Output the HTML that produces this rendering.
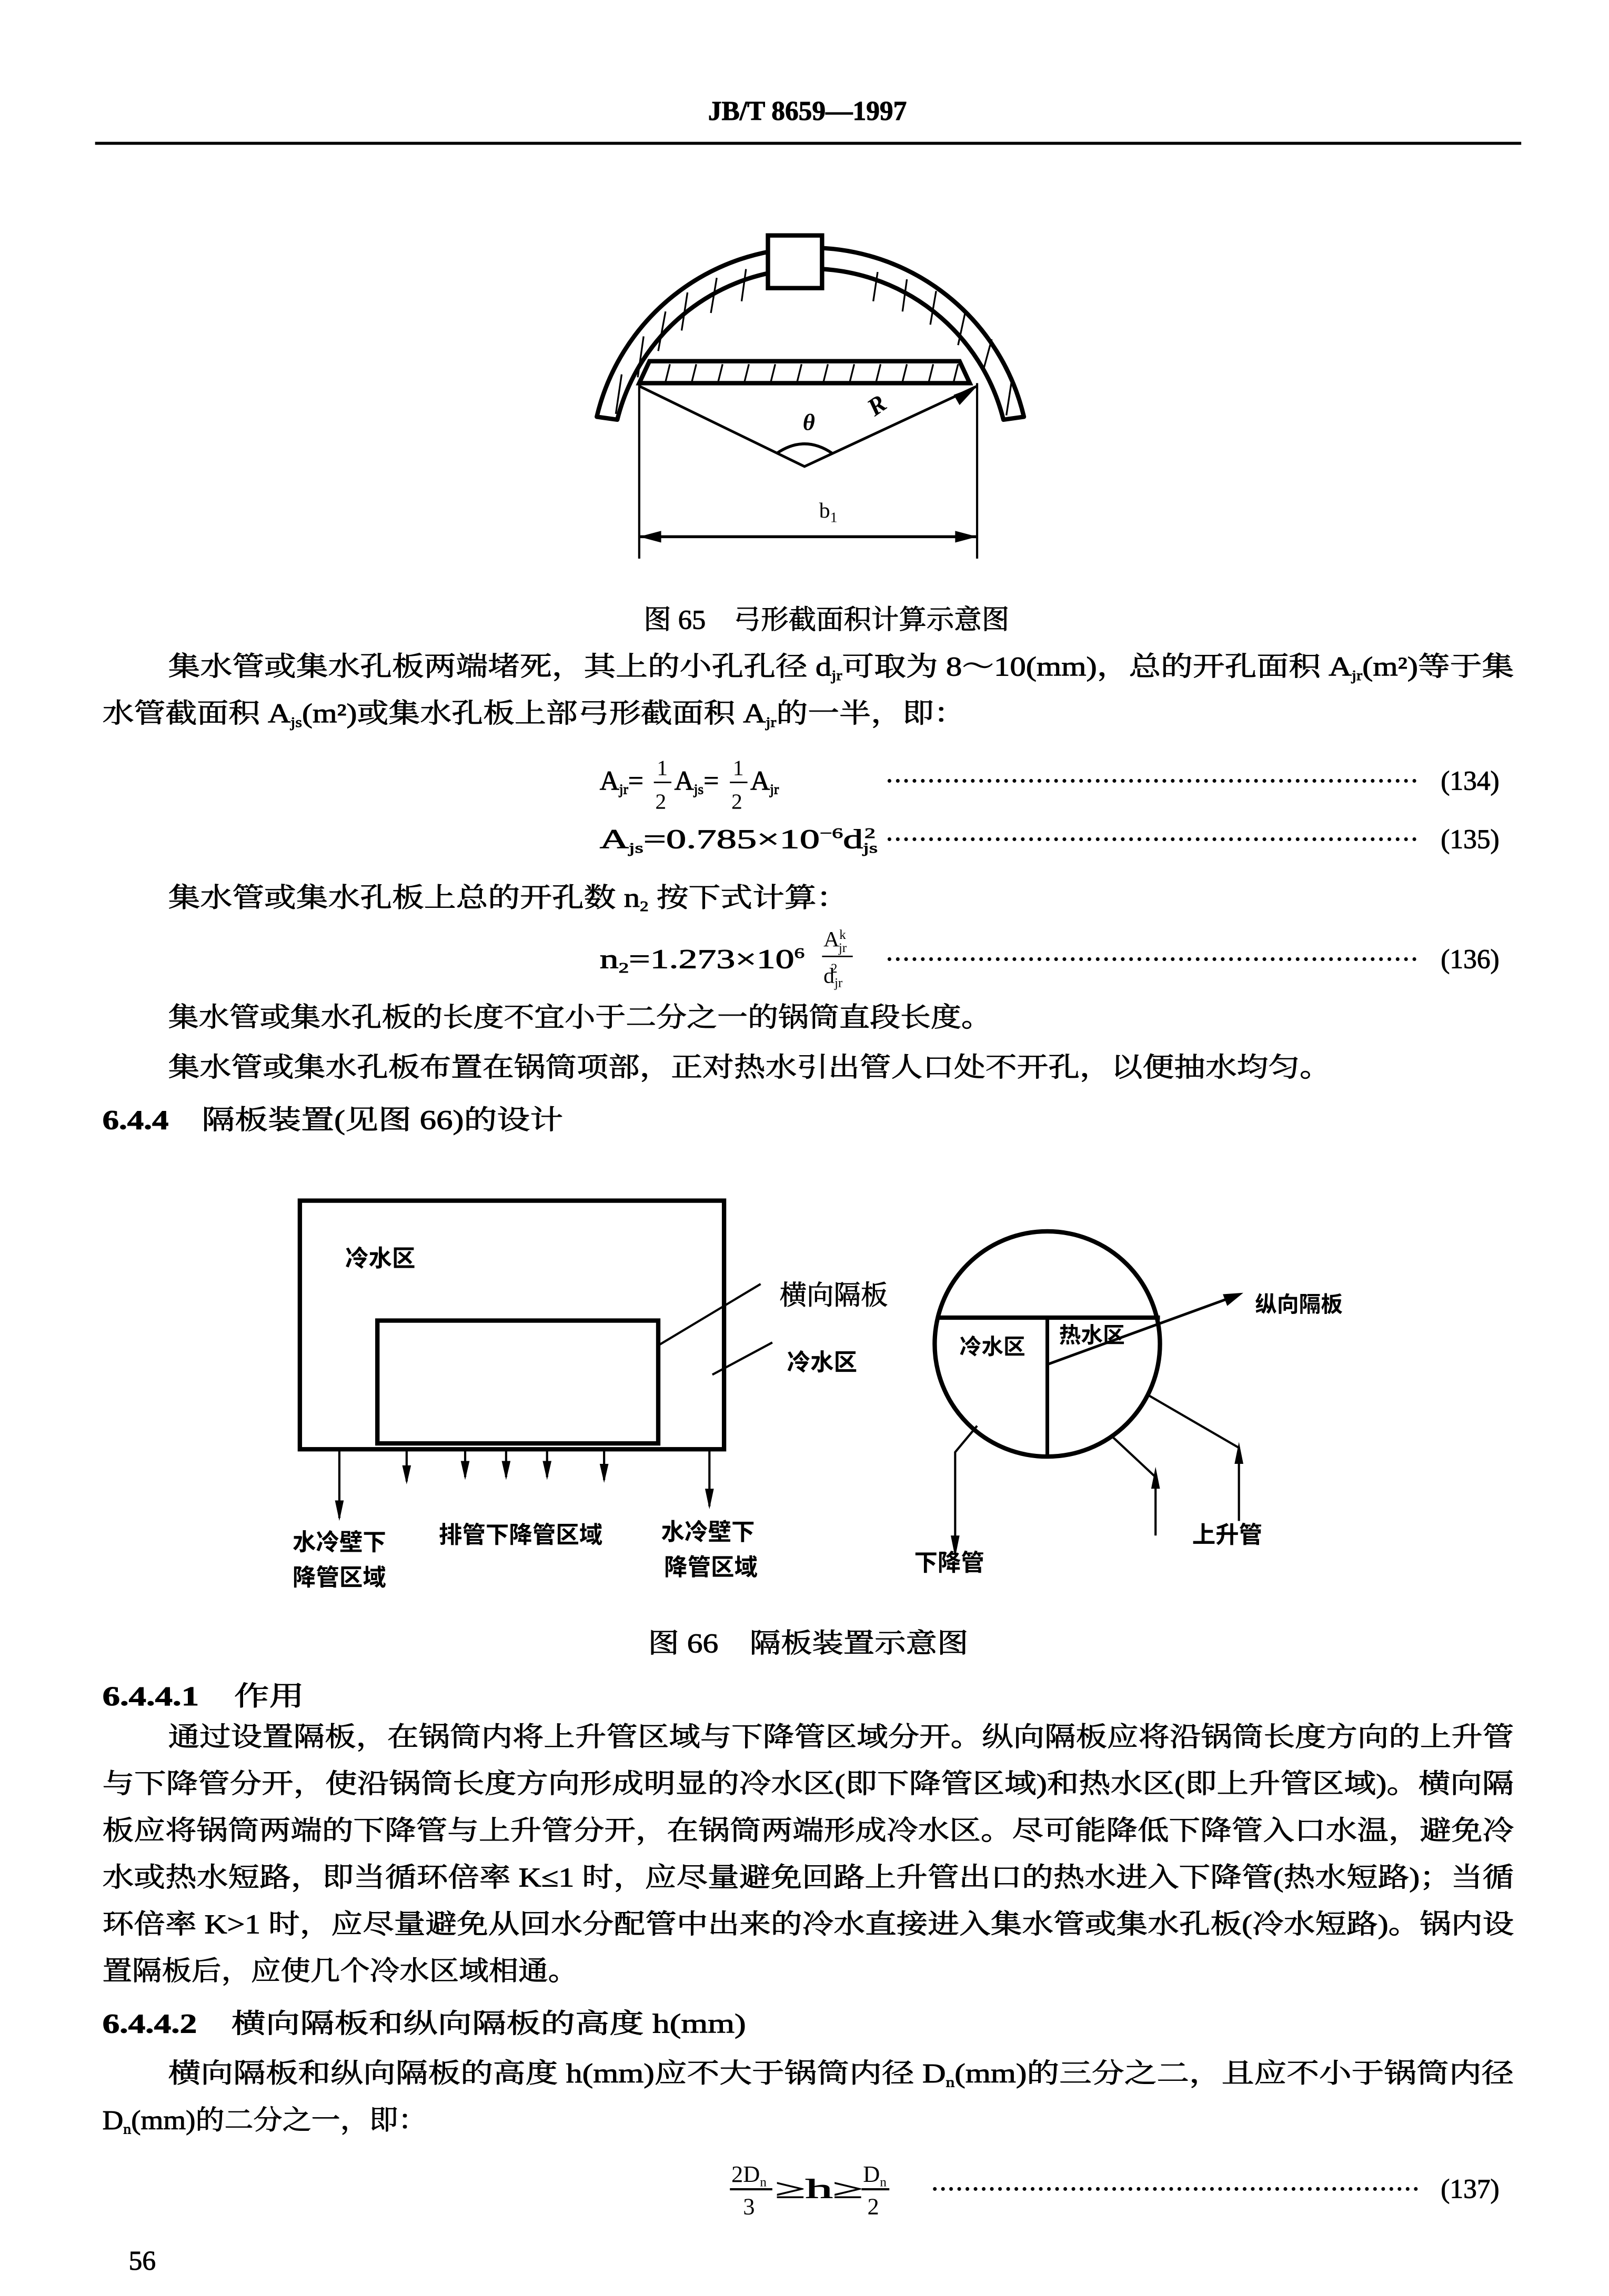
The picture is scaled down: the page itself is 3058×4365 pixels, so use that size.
<!DOCTYPE html>
<html><head><meta charset="utf-8"><style>
html,body{margin:0;padding:0;background:#fff}
svg{display:block}
text{font-family:"Liberation Serif","Noto Serif CJK SC","Noto Sans CJK SC",serif;fill:#000}
.b{font-size:18.5px;stroke:#000;stroke-width:0.35}
.h{font-family:"Liberation Sans","Noto Sans CJK SC",sans-serif;font-weight:bold}
.sb{font-weight:bold}
</style></head><body>
<svg width="3058" height="4365" viewBox="0 0 1100 1570" preserveAspectRatio="none" xmlns="http://www.w3.org/2000/svg">
<text x="552" y="82" class="b sb" text-anchor="middle" font-size="17">JB/T 8659—1997</text>
<line x1="65" y1="98" x2="1040" y2="98" stroke="#000" stroke-width="2"/>

<!-- Figure 65 -->
<g stroke="#000" fill="none">
<path d="M408,285 A150,150 0 0 1 700,285 L686,287 A136,136 0 0 0 422,287 Z" fill="#fff" stroke-width="3" stroke-linejoin="round"/>
<g stroke-width="1.2">
<line x1="425" y1="256" x2="421" y2="283"/><line x1="440" y1="230" x2="436" y2="258"/><line x1="455" y1="213" x2="450" y2="240"/><line x1="470" y1="200" x2="466" y2="226"/>
<line x1="490" y1="190" x2="486" y2="214"/><line x1="510" y1="184" x2="507" y2="206"/>
<line x1="600" y1="186" x2="597" y2="206"/><line x1="620" y1="191" x2="617" y2="213"/><line x1="640" y1="199" x2="636" y2="222"/>
<line x1="660" y1="213" x2="655" y2="236"/><line x1="678" y1="232" x2="672" y2="254"/><line x1="692" y1="258" x2="688" y2="284"/>
</g>
<rect x="525" y="161" width="37" height="36" fill="#fff" stroke-width="3"/>
<path d="M444,247 L656,247 L663,262 L437,262 Z" fill="#fff" stroke-width="3"/>
<g stroke-width="1.2">
<line x1="458" y1="249" x2="455" y2="261"/><line x1="476" y1="249" x2="473" y2="261"/><line x1="494" y1="249" x2="491" y2="261"/>
<line x1="512" y1="249" x2="509" y2="261"/><line x1="530" y1="249" x2="527" y2="261"/><line x1="548" y1="249" x2="545" y2="261"/>
<line x1="566" y1="249" x2="563" y2="261"/><line x1="584" y1="249" x2="581" y2="261"/><line x1="602" y1="249" x2="599" y2="261"/>
<line x1="620" y1="249" x2="617" y2="261"/><line x1="638" y1="249" x2="635" y2="261"/><line x1="655" y1="249" x2="652" y2="261"/>
</g>
<line x1="437" y1="262" x2="437" y2="382" stroke-width="1.5"/>
<line x1="668" y1="262" x2="668" y2="382" stroke-width="1.5"/>
<polyline points="437,264 550,319 668,264" stroke-width="1.8"/>
<path d="M531,310 Q550,297 569,310" stroke-width="2"/>
<line x1="437" y1="367" x2="668" y2="367" stroke-width="2"/>
</g>
<polygon points="437,367 452,363 452,371" fill="#000"/>
<polygon points="668,367 653,363 653,371" fill="#000"/>
<polygon points="668,264 652,270 656,277" fill="#000"/>
<text x="553" y="294" font-size="16" font-style="italic" text-anchor="middle" class="sb">θ</text>
<text x="598" y="285" font-size="17" font-style="italic" class="sb" transform="rotate(-35 598 285)">R</text>
<text x="560" y="354" font-size="15">b<tspan font-size="10" dy="3">1</tspan></text>
<text x="440" y="430" class="b" textLength="250" lengthAdjust="spacingAndGlyphs">图 65　弓形截面积计算示意图</text>

<text x="115" y="462" class="b" textLength="920" lengthAdjust="spacingAndGlyphs">集水管或集水孔板两端堵死，其上的小孔孔径 d<tspan font-size="10" dy="3">jr</tspan><tspan dy="-3">可取为 8～10(mm)，总的开孔面积 A</tspan><tspan font-size="10" dy="3">jr</tspan><tspan dy="-3">(m²)等于集</tspan></text>
<text x="70" y="494" class="b" textLength="590" lengthAdjust="spacingAndGlyphs">水管截面积 A<tspan font-size="10" dy="3">js</tspan><tspan dy="-3">(m²)或集水孔板上部弓形截面积 A</tspan><tspan font-size="10" dy="3">jr</tspan><tspan dy="-3">的一半，即：</tspan></text>

<text x="410" y="540" class="b">A<tspan font-size="10" dy="3">jr</tspan><tspan dy="-3">=</tspan></text>
<text x="449" y="530" font-size="15">1</text><line x1="447" y1="535" x2="459" y2="535" stroke="#000"/><text x="448" y="553" font-size="15">2</text>
<text x="461" y="540" class="b">A<tspan font-size="10" dy="3">js</tspan><tspan dy="-3">=</tspan></text>
<text x="501" y="530" font-size="15">1</text><line x1="499" y1="535" x2="511" y2="535" stroke="#000"/><text x="500" y="553" font-size="15">2</text>
<text x="513" y="540" class="b">A<tspan font-size="10" dy="3">jr</tspan></text>
<text x="605" y="540" class="b" textLength="365" lengthAdjust="spacing">································································</text>
<text x="985" y="540" class="b">(134)</text>

<text x="410" y="580" class="b" textLength="190" lengthAdjust="spacingAndGlyphs">A<tspan font-size="10" dy="3">js</tspan><tspan dy="-3">=0.785×10</tspan><tspan font-size="10" dy="-7">−6</tspan><tspan dy="7">d</tspan><tspan font-size="10" dy="3">js</tspan><tspan font-size="10" dx="-6" dy="-10">2</tspan></text>
<text x="605" y="580" class="b" textLength="365" lengthAdjust="spacing">································································</text>
<text x="985" y="580" class="b">(135)</text>

<text x="115" y="620" class="b" textLength="465" lengthAdjust="spacingAndGlyphs">集水管或集水孔板上总的开孔数 n<tspan font-size="10" dy="3">2</tspan><tspan dy="-3"> 按下式计算：</tspan></text>
<text x="410" y="662" class="b" textLength="140" lengthAdjust="spacingAndGlyphs">n<tspan font-size="10" dy="3">2</tspan><tspan dy="-3">=1.273×10</tspan><tspan font-size="10" dy="-7">6</tspan></text>
<text x="563" y="647" font-size="15">A<tspan font-size="9" dy="-5">k</tspan><tspan font-size="9" dx="-5" dy="9">jr</tspan></text>
<line x1="562" y1="654" x2="583" y2="654" stroke="#000"/>
<text x="563" y="672" font-size="15">d<tspan font-size="9" dy="3">jr</tspan><tspan font-size="9" dx="-8" dy="-10">2</tspan></text>
<text x="605" y="662" class="b" textLength="365" lengthAdjust="spacing">································································</text>
<text x="985" y="662" class="b">(136)</text>

<text x="115" y="702" class="b" textLength="563" lengthAdjust="spacingAndGlyphs">集水管或集水孔板的长度不宜小于二分之一的锅筒直段长度。</text>
<text x="115" y="736" class="b" textLength="795" lengthAdjust="spacingAndGlyphs">集水管或集水孔板布置在锅筒项部，正对热水引出管人口处不开孔，以便抽水均匀。</text>
<text x="70" y="772" class="b" textLength="315" lengthAdjust="spacingAndGlyphs"><tspan class="sb">6.4.4</tspan>　隔板装置(见图 66)的设计</text>

<!-- Figure 66 -->
<g stroke="#000" fill="none">
<rect x="205" y="821" width="290" height="170" stroke-width="3"/>
<rect x="258" y="903" width="192" height="84" stroke-width="3"/>
<g stroke-width="1.5">
<line x1="232" y1="991" x2="232" y2="1038"/><line x1="278" y1="991" x2="278" y2="1013"/>
<line x1="318" y1="991" x2="318" y2="1010"/><line x1="346" y1="991" x2="346" y2="1010"/>
<line x1="374" y1="991" x2="374" y2="1010"/><line x1="413" y1="991" x2="413" y2="1012"/>
<line x1="485" y1="991" x2="485" y2="1030"/>
<line x1="450" y1="920" x2="520" y2="878"/>
<line x1="487" y1="940" x2="528" y2="918"/>
</g>
<circle cx="716" cy="919" r="77" stroke-width="3"/>
<line x1="640" y1="901" x2="793" y2="901" stroke-width="3"/>
<line x1="716" y1="901" x2="716" y2="996" stroke-width="2.5"/>
<line x1="716" y1="933" x2="845" y2="886" stroke-width="1.8"/>
<polyline points="668,975 653,993 653,1063" stroke-width="1.5"/>
<polyline points="760,982 790,1010 790,1050" stroke-width="1.5"/>
<polyline points="785,954 847,990 847,1040" stroke-width="1.5"/>
</g>
<g fill="#000">
<polygon points="232,1040 229,1026 235,1026"/><polygon points="278,1015 275,1002 281,1002"/>
<polygon points="318,1012 315,999 321,999"/><polygon points="346,1012 343,999 349,999"/>
<polygon points="374,1012 371,999 377,999"/><polygon points="413,1014 410,1001 416,1001"/>
<polygon points="485,1032 482,1018 488,1018"/>
<polygon points="653,1065 650,1050 656,1050"/>
<polygon points="790,1003 787,1018 793,1018"/>
<polygon points="847,986 844,1001 850,1001"/>
<polygon points="850,884 836,885 839,893"/>
</g>
<g>
<text x="236" y="866" class="h" font-size="16">冷水区</text>
<text x="533" y="892" font-size="17" class="b">横向隔板</text>
<text x="538" y="937" class="h" font-size="16">冷水区</text>
<text x="656" y="926" class="h" font-size="15">冷水区</text>
<text x="724" y="918" class="h" font-size="15">热水区</text>
<text x="858" y="897" class="h" font-size="15">纵向隔板</text>
<text x="200" y="1060" class="h" font-size="16">水冷壁下</text>
<text x="200" y="1084" class="h" font-size="16">降管区域</text>
<text x="300" y="1055" class="h" font-size="16">排管下降管区域</text>
<text x="452" y="1053" class="h" font-size="16">水冷壁下</text>
<text x="454" y="1077" class="h" font-size="16">降管区域</text>
<text x="625" y="1074" class="h" font-size="16">下降管</text>
<text x="815" y="1055" class="h" font-size="16">上升管</text>
</g>
<text x="443" y="1130" class="b" textLength="219" lengthAdjust="spacingAndGlyphs">图 66　隔板装置示意图</text>

<text x="70" y="1166" class="b" textLength="138" lengthAdjust="spacingAndGlyphs"><tspan class="sb">6.4.4.1</tspan>　作用</text>
<text x="115" y="1194" class="b" textLength="920" lengthAdjust="spacingAndGlyphs">通过设置隔板，在锅筒内将上升管区域与下降管区域分开。纵向隔板应将沿锅筒长度方向的上升管</text>
<text x="70" y="1226" class="b" textLength="965" lengthAdjust="spacingAndGlyphs">与下降管分开，使沿锅筒长度方向形成明显的冷水区(即下降管区域)和热水区(即上升管区域)。横向隔</text>
<text x="70" y="1258" class="b" textLength="965" lengthAdjust="spacingAndGlyphs">板应将锅筒两端的下降管与上升管分开，在锅筒两端形成冷水区。尽可能降低下降管入口水温，避免冷</text>
<text x="70" y="1290" class="b" textLength="965" lengthAdjust="spacingAndGlyphs">水或热水短路，即当循环倍率 K≤1 时，应尽量避免回路上升管出口的热水进入下降管(热水短路)；当循</text>
<text x="70" y="1322" class="b" textLength="965" lengthAdjust="spacingAndGlyphs">环倍率 K&gt;1 时，应尽量避免从回水分配管中出来的冷水直接进入集水管或集水孔板(冷水短路)。锅内设</text>
<text x="70" y="1354" class="b" textLength="325" lengthAdjust="spacingAndGlyphs">置隔板后，应使几个冷水区域相通。</text>
<text x="70" y="1390" class="b" textLength="440" lengthAdjust="spacingAndGlyphs"><tspan class="sb">6.4.4.2</tspan>　横向隔板和纵向隔板的高度 h(mm)</text>
<text x="115" y="1424" class="b" textLength="920" lengthAdjust="spacingAndGlyphs">横向隔板和纵向隔板的高度 h(mm)应不大于锅筒内径 D<tspan font-size="10" dy="3">n</tspan><tspan dy="-3">(mm)的三分之二，且应不小于锅筒内径</tspan></text>
<text x="70" y="1456" class="b" textLength="222" lengthAdjust="spacingAndGlyphs">D<tspan font-size="10" dy="3">n</tspan><tspan dy="-3">(mm)的二分之一，即：</tspan></text>

<text x="500" y="1492" font-size="16">2D<tspan font-size="9" dy="3">n</tspan></text>
<line x1="499" y1="1497" x2="528" y2="1497" stroke="#000" stroke-width="1.5"/>
<text x="508" y="1514" font-size="16">3</text>
<text x="530" y="1503" class="b" textLength="60" lengthAdjust="spacingAndGlyphs">≥h≥</text>
<text x="590" y="1492" font-size="16">D<tspan font-size="9" dy="3">n</tspan></text>
<line x1="589" y1="1497" x2="608" y2="1497" stroke="#000" stroke-width="1.5"/>
<text x="593" y="1514" font-size="16">2</text>
<text x="636" y="1503" class="b" textLength="335" lengthAdjust="spacing">····························································</text>
<text x="985" y="1503" class="b">(137)</text>

<text x="88" y="1552" class="b" font-size="15">56</text>
</svg>
</body></html>
